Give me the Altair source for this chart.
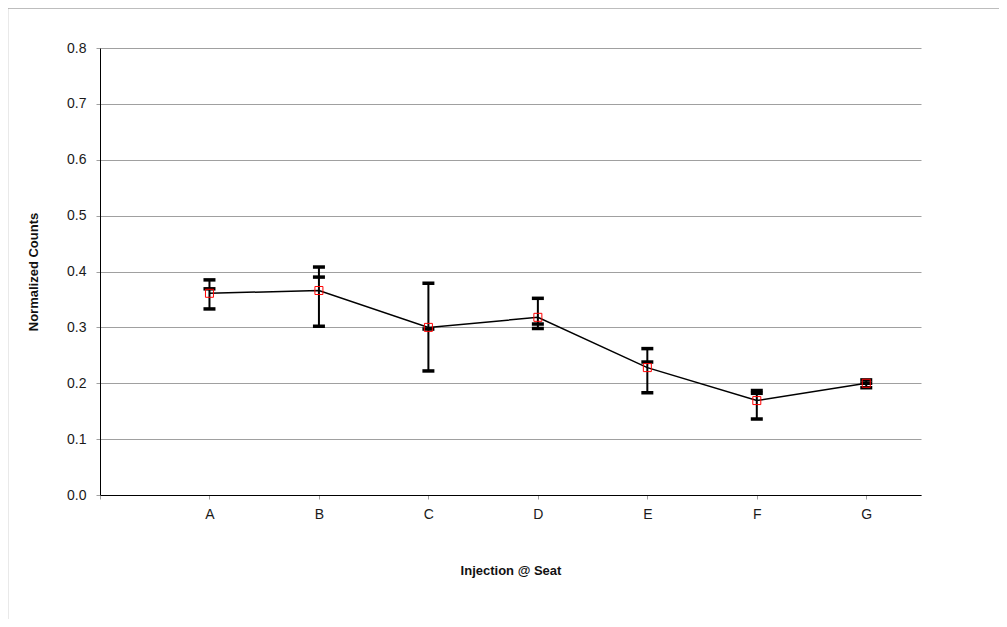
import altair as alt
import pandas as pd

categories = ["A", "B", "C", "D", "E", "F", "G"]
values = [0.361, 0.366, 0.300, 0.318, 0.228, 0.169, 0.200]
cap_high = [0.385, 0.408, 0.379, 0.352, 0.262, 0.187, 0.206]
cap_mid = [0.369, 0.390, 0.297, 0.306, 0.238, 0.182, 0.200]
cap_low = [0.333, 0.302, 0.222, 0.298, 0.183, 0.136, 0.192]

y_ticks = [0.0, 0.1, 0.2, 0.3, 0.4, 0.5, 0.6, 0.7, 0.8]

W, H = 821, 447
FONT = "Liberation Sans"

df = pd.DataFrame({
    "pos": list(range(1, len(categories) + 1)),
    "cat": categories,
    "val": values,
    "hi": cap_high,
    "mid": cap_mid,
    "lo": cap_low,
})
caps = df.melt(id_vars=["pos"], value_vars=["hi", "mid", "lo"], value_name="cap")

label_array = "[" + ",".join(["''"] + ["'%s'" % c for c in categories]) + "]"

x_scale = alt.Scale(domain=[0, len(categories) + 0.5], nice=False, zero=False)
y_scale = alt.Scale(domain=[0, 0.8], nice=False)

x_enc = alt.X(
    "pos:Q", scale=x_scale,
    axis=alt.Axis(
        title="Injection @ Seat", values=list(range(0, len(categories) + 1)),
        labelExpr=label_array + "[datum.value]", grid=False,
        domainColor="black", domainWidth=1, tickColor="#a0a0a0", tickSize=4,
        labelFont=FONT, labelFontSize=14, labelColor="#1a1a1a", labelPadding=8,
        titleFont=FONT, titleFontSize=13, titleFontWeight="bold", titleColor="#111111",
        titleX=W / 2, titleY=75, titleBaseline="middle", titleAlign="center",
    ),
)
y_enc = alt.Y(
    "val:Q", scale=y_scale,
    axis=alt.Axis(
        title="Normalized Counts", values=y_ticks, format=".1f",
        grid=True, gridColor="#a0a0a0", gridWidth=1,
        domainColor="black", domainWidth=1, tickColor="#a0a0a0", tickSize=4,
        labelFont=FONT, labelFontSize=14, labelColor="#1a1a1a", labelPadding=10,
        titleFont=FONT, titleFontSize=13, titleFontWeight="bold", titleColor="#111111",
        titleX=-67, titleY=H / 2, titleAngle=270, titleBaseline="middle", titleAlign="center",
    ),
)

base = alt.Chart(df)

border = base.mark_rect(fill=None, stroke="#a8a8a8", strokeWidth=1.5, clip=False).encode(
    x=alt.value(-92.5), x2=alt.value(W + 300), y=alt.value(-40), y2=alt.value(H + 300)
).transform_filter("datum.pos == 1")

line = base.mark_line(color="black", strokeWidth=1.5).encode(x=x_enc, y=y_enc)

rules = base.mark_rule(color="black", strokeWidth=2).encode(
    x="pos:Q", y=alt.Y("lo:Q", scale=y_scale), y2="hi:Q"
)

cap_marks = alt.Chart(caps).mark_tick(
    color="black", orient="horizontal", size=12, thickness=3.5, opacity=1
).encode(x="pos:Q", y=alt.Y("cap:Q", scale=y_scale))

points = base.mark_point(
    shape="square", filled=False, color="#ff0000", size=64, strokeWidth=1, opacity=1
).encode(x="pos:Q", y="val:Q")

chart = alt.layer(border, line, rules, cap_marks, points).properties(
    width=W, height=H,
    autosize=alt.AutoSizeParams(type="none"),
    padding={"left": 92, "top": 40, "right": 78, "bottom": 124},
).configure_view(stroke=None)

chart.save("out.html", embed_options={"renderer": "svg", "actions": False})
